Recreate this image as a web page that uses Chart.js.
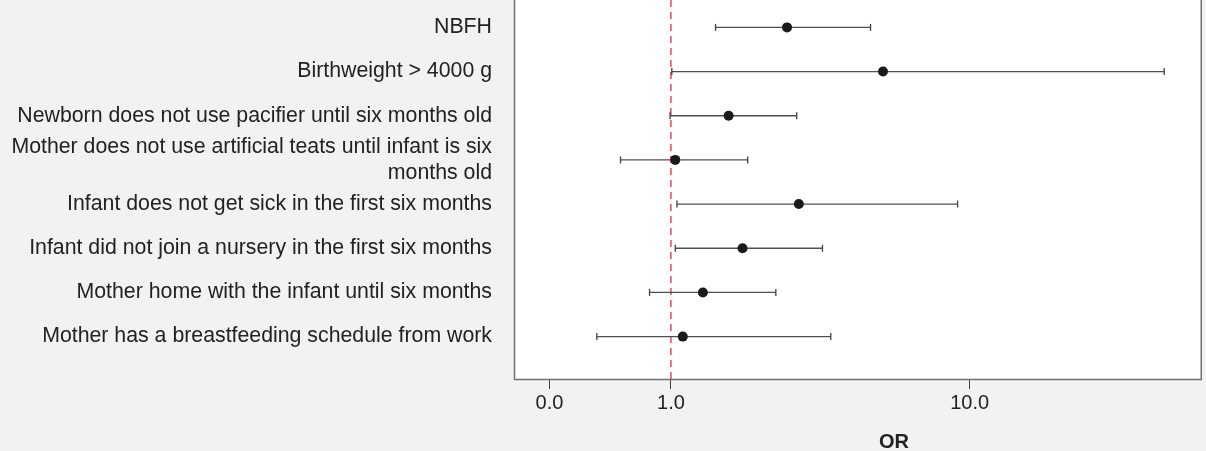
<!DOCTYPE html>
<html>
<head>
<meta charset="utf-8">
<script src="https://cdn.jsdelivr.net/npm/chart.js@4.4.1/dist/chart.umd.min.js"></script>
<style>
  html, body { margin: 0; padding: 0; background: #f1f2f4; }
  #wrap { width: 1206px; height: 451px; position: relative; }
</style>
</head>
<body>
<div id="wrap"><canvas id="forest"></canvas></div>
<script>
// rows, top to bottom
const factors = [
    'NBFH',
    'Birthweight > 4000 g',
    'Newborn does not use pacifier until six months old',
    ['Mother does not use artificial teats until infant is six', 'months old'],
    'Infant does not get sick in the first six months',
    'Infant did not join a nursery in the first six months',
    'Mother home with the infant until six months',
    'Mother has a breastfeeding schedule from work'
];
const oddsRatio = [2.88, 5.71, 1.78, 1.05, 3.15, 2.01, 1.40, 1.14];
const ciLower   = [1.58, 1.01, 0.99, 0.50, 1.07, 1.05, 0.77, 0.31];
const ciUpper   = [5.25, 32.4, 3.10, 2.10, 9.27, 3.75, 2.64, 3.98];
const xTickValues = [0, 1, 10];
const refValue = 1;

const FONT = '"Liberation Sans", Arial, sans-serif';

// the OR axis is drawn on log10(OR + 1)
const toAxis = v => Math.log10(v + 1);
const rowOf = i => factors.length - i;

const ciData = [];
factors.forEach((f, i) => {
    ciData.push({ x: toAxis(ciLower[i]), y: rowOf(i) });
    ciData.push({ x: toAxis(ciUpper[i]), y: rowOf(i) });
    ciData.push({ x: toAxis(ciUpper[i]), y: null });
});
const pointData = oddsRatio.map((v, i) => ({ x: toAxis(v), y: rowOf(i) }));
const yMin = 0.04, yMax = 8.62;

// --- frame, background and axis title ---
const framePlugin = {
    id: 'frame',
    beforeDraw(chart) {
        const { ctx, chartArea: a } = chart;
        ctx.save();
        ctx.fillStyle = '#ffffff';
        ctx.fillRect(a.left, a.top, a.right - a.left, a.bottom - a.top);
        ctx.restore();
    },
    afterDraw(chart) {
        const { ctx, chartArea: a } = chart;
        ctx.save();
        ctx.strokeStyle = '#707070';
        ctx.lineWidth = 1.5;
        ctx.beginPath();
        ctx.moveTo(a.left + 0.5, a.top);
        ctx.lineTo(a.left + 0.5, a.bottom + 0.5);
        ctx.lineTo(a.right - 0.75, a.bottom + 0.5);
        ctx.lineTo(a.right - 0.75, a.top);
        ctx.stroke();
        ctx.fillStyle = '#222222';
        ctx.font = 'bold 20px ' + FONT;
        ctx.textAlign = 'center';
        ctx.textBaseline = 'middle';
        ctx.fillText('OR', 894, 442);
        ctx.restore();
    }
};

const noPad = scale => {
    scale.paddingTop = 0;
    scale.paddingBottom = 0;
    scale.paddingLeft = 0;
    scale.paddingRight = 0;
};

new Chart(document.getElementById('forest'), {
    type: 'scatter',
    data: {
        datasets: [
            {
                data: pointData,
                pointRadius: 5,
                pointBackgroundColor: '#1a1a1a',
                pointBorderWidth: 0,
                order: 1
            },
            {
                data: ciData,
                showLine: true,
                spanGaps: false,
                borderColor: '#505050',
                borderWidth: 1.3,
                pointStyle: 'line',
                pointRotation: 90,
                pointRadius: 3.5,
                pointBorderColor: '#404040',
                pointBorderWidth: 1.3,
                order: 2
            },
            {
                data: [{ x: toAxis(refValue), y: yMin }, { x: toAxis(refValue), y: yMax }],
                showLine: true,
                borderColor: '#d61f2c',
                borderWidth: 1.2,
                borderDash: [7, 5],
                pointRadius: 0,
                order: 3
            }
        ]
    },
    options: {
        responsive: true,
        maintainAspectRatio: false,
        animation: false,
        layout: { autoPadding: false, padding: { top: 0, right: 4, bottom: 0, left: 0 } },
        plugins: { legend: { display: false }, tooltip: { enabled: false } },
        scales: {
            x: {
                type: 'linear',
                min: -0.088,
                max: 1.6175,
                afterBuildTicks: scale => { scale.ticks = xTickValues.map(v => ({ value: toAxis(v) })); },
                afterFit: scale => { scale.height = 72; noPad(scale); },
                grid: { display: true, drawOnChartArea: false, drawTicks: true, tickLength: 10, color: '#404040' },
                border: { display: false },
                ticks: {
                    autoSkip: false,
                    maxRotation: 0,
                    padding: 2,
                    color: '#222222',
                    font: { family: FONT, size: 20 },
                    callback: (value, index) => xTickValues[index].toFixed(1)
                }
            },
            y: {
                type: 'linear',
                min: yMin,
                max: yMax,
                afterBuildTicks: scale => { scale.ticks = factors.map((f, i) => ({ value: rowOf(i) })); },
                afterFit: scale => { scale.width = 514; noPad(scale); },
                grid: { display: false, drawTicks: false },
                border: { display: false },
                ticks: {
                    autoSkip: false,
                    padding: 22,
                    color: '#222222',
                    font: { family: FONT, size: 21.3 },
                    callback: (value, index) => factors[index]
                }
            }
        }
    },
    plugins: [framePlugin]
});
</script>
</body>
</html>
